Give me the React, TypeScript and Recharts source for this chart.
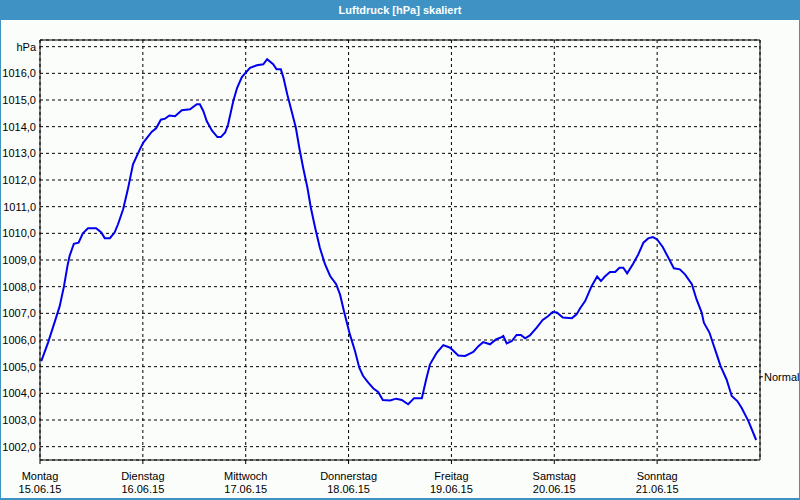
import { CartesianGrid, Line, LineChart, ReferenceLine, XAxis, YAxis } from "recharts";

// hours since Monday 00:00
const hours = [
  0.3, 1.9, 3.4, 4.6, 5.6, 6.4, 6.9, 7.9, 9.0, 10.0,
  11.2, 13.1, 14.3, 15.1, 16.3, 17.4, 18.2, 19.4, 20.5, 21.7,
  23.3, 24.1, 26.1, 27.1, 28.2, 29.2, 30.2, 31.5, 33.1, 35.0,
  36.6, 37.3, 38.1, 38.9, 40.1, 41.4, 42.2, 43.2, 43.9, 45.1,
  46.0, 47.1, 49.0, 50.6, 52.1, 53.0, 54.4, 55.2, 56.2, 56.8,
  57.7, 58.7, 59.7, 60.5, 61.4, 62.4, 63.2, 64.2, 65.3, 66.5,
  67.7, 69.1, 70.0, 71.0, 72.3, 73.5, 74.5, 75.4, 76.6, 77.8,
  78.9, 80.0, 81.7, 83.1, 84.4, 85.9, 87.3, 89.1, 90.1, 91.0,
  92.6, 94.1, 95.7, 97.6, 99.2, 100.3, 101.1, 102.3, 103.4, 105.0,
  106.4, 107.7, 108.1, 108.9, 110.1, 111.2, 112.2, 113.2, 114.3, 115.9,
  117.3, 118.6, 119.6, 120.6, 122.0, 124.1, 125.2, 126.0, 127.2, 128.7,
  130.0, 130.9, 131.8, 133.0, 134.2, 135.2, 136.1, 137.0, 138.4, 139.6,
  140.8, 141.9, 143.0, 144.0, 145.3, 146.6, 147.9, 149.3, 150.5, 152.1,
  153.2, 154.4, 154.9, 156.2, 157.1, 157.9, 158.8, 160.2, 161.4, 162.7,
  163.7, 165.3, 167.1,
];

const pressure = [
  1005.21, 1005.91, 1006.66, 1007.27, 1008.02, 1008.77, 1009.15, 1009.61, 1009.65, 1010.0,
  1010.19, 1010.19, 1010.03, 1009.82, 1009.82, 1010.03, 1010.34, 1010.9, 1011.65, 1012.59,
  1013.15, 1013.4, 1013.81, 1013.94, 1014.26, 1014.3, 1014.42, 1014.39, 1014.62, 1014.65,
  1014.84, 1014.84, 1014.59, 1014.21, 1013.86, 1013.61, 1013.61, 1013.78, 1014.09, 1014.96,
  1015.46, 1015.86, 1016.21, 1016.3, 1016.34, 1016.53, 1016.34, 1016.15, 1016.15, 1015.84,
  1015.21, 1014.59, 1013.96, 1013.21, 1012.46, 1011.71, 1010.96, 1010.21, 1009.46, 1008.84,
  1008.4, 1008.09, 1007.71, 1007.03, 1006.21, 1005.59, 1004.96, 1004.65, 1004.4, 1004.18,
  1004.05, 1003.75, 1003.73, 1003.8, 1003.75, 1003.59, 1003.82, 1003.82, 1004.52, 1005.09,
  1005.53, 1005.81, 1005.71, 1005.42, 1005.4, 1005.49, 1005.55, 1005.77, 1005.92, 1005.84,
  1006.02, 1006.11, 1006.15, 1005.87, 1005.96, 1006.19, 1006.19, 1006.06, 1006.17, 1006.46,
  1006.75, 1006.9, 1007.05, 1007.03, 1006.84, 1006.82, 1006.96, 1007.18, 1007.46, 1008.02,
  1008.38, 1008.21, 1008.38, 1008.55, 1008.55, 1008.71, 1008.71, 1008.5, 1008.86, 1009.21,
  1009.65, 1009.81, 1009.86, 1009.77, 1009.49, 1009.09, 1008.69, 1008.65, 1008.46, 1008.09,
  1007.52, 1007.03, 1006.65, 1006.28, 1005.84, 1005.46, 1005.02, 1004.52, 1003.9, 1003.71,
  1003.46, 1002.96, 1002.25,
];

const dayTicks = [0, 24, 48, 72, 96, 120, 144];
const dayNames = ["Montag", "Dienstag", "Mittwoch", "Donnerstag", "Freitag", "Samstag", "Sonntag"];
const dayDates = ["15.06.15", "16.06.15", "17.06.15", "18.06.15", "19.06.15", "20.06.15", "21.06.15"];
const yTicks = [1002, 1003, 1004, 1005, 1006, 1007, 1008, 1009, 1010, 1011, 1012, 1013, 1014, 1015, 1016, 1017];
const normalLevel = 1004.62;

const data = hours.map((h, i) => ({ h, p: pressure[i] }));

const FONT = "'Liberation Sans', Arial, sans-serif";
const DOMAIN: [number, number] = [1001.5, 1017.25];

function DayTick({ x, y, payload }: any) {
  const i = dayTicks.indexOf(payload.value);
  return (
    <g>
      <text x={x} y={y + 14} textAnchor="middle" fontSize={11} fontFamily={FONT} fill="#000">
        {dayNames[i]}
      </text>
      <text x={x} y={y + 27} textAnchor="middle" fontSize={11} fontFamily={FONT} fill="#000">
        {dayDates[i]}
      </text>
    </g>
  );
}

export default function App() {
  return (
    <div style={{ position: "absolute", left: 0, top: 0, width: 800, height: 500, background: "#3e93c4" }}>
      <div
        style={{
          height: 20,
          lineHeight: "20px",
          textAlign: "center",
          color: "#fff",
          fontWeight: "bold",
          fontSize: 11,
          fontFamily: FONT,
        }}
      >
        Luftdruck [hPa] skaliert
      </div>
      <div style={{ position: "absolute", left: 1, top: 20, width: 798, height: 478, background: "#fbfdfb" }}>
        <LineChart
          width={798}
          height={478}
          data={data}
          margin={{ top: 20, right: 0, bottom: 0, left: 0 }}
          style={{ overflow: "visible" }}
        >
          <CartesianGrid stroke="#000" strokeDasharray="3 3" />
          <XAxis
            dataKey="h"
            type="number"
            domain={[0, 168]}
            ticks={dayTicks}
            height={38}
            stroke="#000"
            tickSize={4}
            tickMargin={2}
            tick={<DayTick />}
          />
          <YAxis
            type="number"
            domain={DOMAIN}
            ticks={yTicks}
            width={39}
            stroke="#000"
            tickLine={false}
            tickSize={0}
            tickMargin={4}
            tick={{ fill: "#000", fontSize: 11, fontFamily: FONT }}
            tickFormatter={(v: number) => (v === 1017 ? "hPa" : v.toFixed(1).replace(".", ","))}
          />
          <YAxis
            yAxisId="right"
            orientation="right"
            type="number"
            domain={DOMAIN}
            ticks={[normalLevel]}
            interval={0}
            width={39}
            stroke="#000"
            tickSize={3}
            tickMargin={1}
            tick={{ fill: "#000", fontSize: 11, fontFamily: FONT }}
            tickFormatter={() => "Normal"}
          />
          <ReferenceLine y={DOMAIN[1]} stroke="#000" strokeWidth={1} />
          <Line
            yAxisId="right"
            dataKey="p"
            type="linear"
            stroke="none"
            dot={false}
            activeDot={false}
            legendType="none"
            isAnimationActive={false}
          />
          <Line
            dataKey="p"
            type="linear"
            stroke="#0000ee"
            strokeWidth={2}
            dot={false}
            isAnimationActive={false}
          />
        </LineChart>
      </div>
    </div>
  );
}
